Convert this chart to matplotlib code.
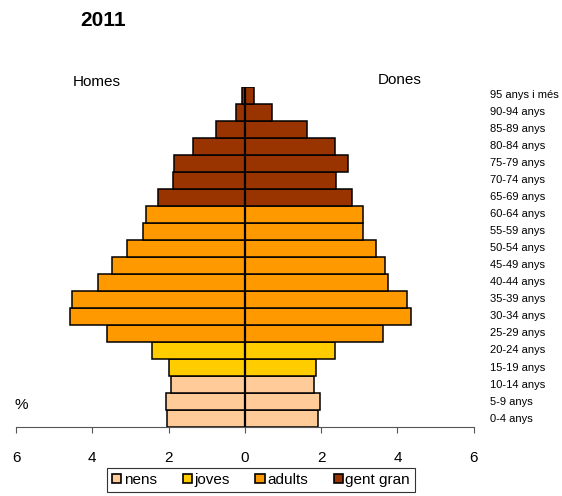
import numpy as np
import matplotlib
matplotlib.use('Agg')
import matplotlib.pyplot as plt
from matplotlib.patches import Patch
from matplotlib.transforms import blended_transform_factory

plt.rcParams['font.family'] = ['Liberation Sans', 'DejaVu Sans']

# age groups, bottom to top
ages = ['0-4 anys', '5-9 anys', '10-14 anys', '15-19 anys', '20-24 anys',
        '25-29 anys', '30-34 anys', '35-39 anys', '40-44 anys', '45-49 anys',
        '50-54 anys', '55-59 anys', '60-64 anys', '65-69 anys', '70-74 anys',
        '75-79 anys', '80-84 anys', '85-89 anys', '90-94 anys', '95 anys i més']

# % of population
homes = [2.05, 2.07, 1.93, 2.00, 2.44, 3.61, 4.59, 4.52, 3.86, 3.48,
         3.10, 2.66, 2.59, 2.29, 1.88, 1.85, 1.37, 0.76, 0.23, 0.07]
dones = [1.91, 1.98, 1.81, 1.87, 2.36, 3.62, 4.35, 4.25, 3.75, 3.67,
         3.45, 3.10, 3.10, 2.81, 2.40, 2.69, 2.36, 1.63, 0.70, 0.25]

# which group each age band belongs to
group_of = ['nens'] * 3 + ['joves'] * 2 + ['adults'] * 8 + ['gent gran'] * 7
groups = ['nens', 'joves', 'adults', 'gent gran']
colors = {'nens': '#FFCC99', 'joves': '#FFCC00', 'adults': '#FF9900', 'gent gran': '#993300'}

fig = plt.figure(figsize=(5.62, 4.96), dpi=100)
ax = fig.add_axes([0.0285, 0.139, 0.8145, 0.686])

y = np.arange(len(ages))
bar_cols = [colors[g] for g in group_of]
ax.barh(y, -np.array(homes), height=1.0, color=bar_cols, edgecolor='black', linewidth=1.1)
ax.barh(y, dones, height=1.0, color=bar_cols, edgecolor='black', linewidth=1.1)
ax.axvline(0, color='black', linewidth=1.6)

ax.set_xlim(-6, 6)
ax.set_ylim(-0.5, len(ages) - 0.5)
ax.set_xticks([-6, -4, -2, 0, 2, 4, 6])
ax.set_xticklabels(['6', '4', '2', '0', '2', '4', '6'], fontsize=11)
ax.set_yticks([])
for s in ['top', 'right', 'left']:
    ax.spines[s].set_visible(False)
ax.spines['bottom'].set_color('#555555')
ax.spines['bottom'].set_linewidth(0.8)
ax.tick_params(axis='x', direction='out', length=4, width=0.8, color='#555555', pad=13)

# age labels on the right
tr = blended_transform_factory(ax.transAxes, ax.transData)
for yi, lab in zip(y, ages):
    ax.text(1.035, yi, lab, transform=tr, ha='left', va='center', fontsize=8)

fig.text(103 / 562, 1 - 21 / 496, '2011', ha='center', va='center',
         fontsize=15, fontweight='bold')
fig.text(97 / 562, 1 - 82 / 496, 'Homes', ha='center', va='center', fontsize=11)
fig.text(400 / 562, 1 - 80 / 496, 'Dones', ha='center', va='center', fontsize=11)
fig.text(21 / 562, 1 - 405 / 496, '%', ha='center', va='center', fontsize=11)

handles = [Patch(facecolor=colors[g], edgecolor='black', linewidth=1.2, label=g) for g in groups]
leg = fig.legend(handles=handles, loc='center', bbox_to_anchor=(261 / 562, 1 - 480 / 496),
                 ncol=4, fontsize=11, frameon=True, fancybox=False, framealpha=1,
                 edgecolor='#333333', handlelength=0.6, handleheight=0.6,
                 handletextpad=0.15, columnspacing=1.7, borderpad=0.35)
leg.get_frame().set_linewidth(0.8)

fig.savefig('out.png', dpi=100)
